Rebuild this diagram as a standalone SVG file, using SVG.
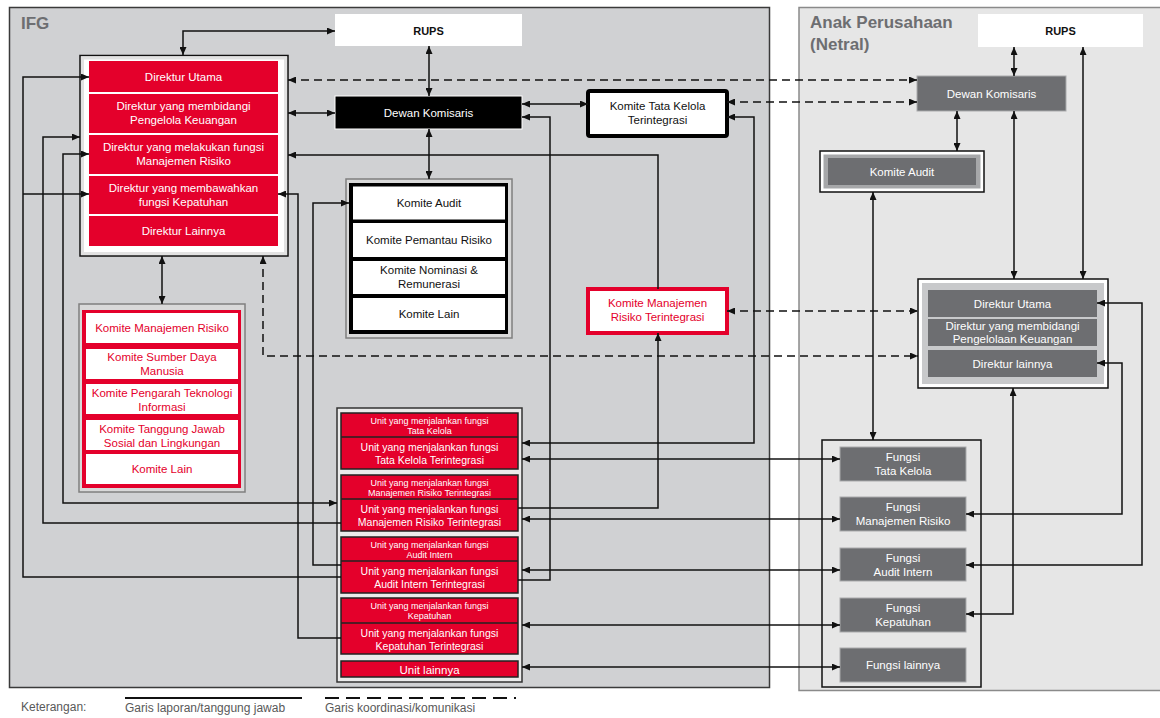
<svg xmlns="http://www.w3.org/2000/svg" width="1160" height="718" viewBox="0 0 1160 718">
<style>
text{font-family:"Liberation Sans",Arial,sans-serif;text-anchor:middle}
.t{font-size:11.5px}
.w{fill:#fff}
.k{fill:#111}
.r{fill:#e4002b}
.red{fill:#e4002b}
.dk{fill:#6d6e71;stroke:#a9aaac;stroke-width:1}
.cn path{fill:none;stroke:#111;stroke-width:1.5}
.cn .both{marker-start:url(#a);marker-end:url(#a)}
.cn .end{marker-end:url(#a)}
.cn .start{marker-start:url(#a)}
.cn .d{stroke-dasharray:8,5}
.ub{fill:#e4002b;stroke:#222;stroke-width:1.5}
.us{font-size:9px;fill:#fff}
.ul{font-size:10.5px;fill:#fff}
</style>
<defs>
<marker id="a" viewBox="0 0 8 7" refX="8" refY="3.5" markerWidth="8" markerHeight="7" markerUnits="userSpaceOnUse" orient="auto-start-reverse"><path d="M0,0 L8,3.5 L0,7 z" fill="#111"/></marker>
</defs>
<rect width="1160" height="718" fill="#fff"/>
<g id="panel-ifg">
<rect x="9.5" y="7.5" width="760" height="680" fill="#d0d1d3" stroke="#3a3a3a" stroke-width="1.5"/>
<text x="21" y="29" style="text-anchor:start;font-size:17px;font-weight:bold;fill:#6d6e71">IFG</text>
</g>
<g id="panel-anak">
<rect x="799" y="7.5" width="370" height="683" fill="#e6e6e6" stroke="#8a8a8a" stroke-width="1.5"/>
<text x="810" y="28" style="text-anchor:start;font-size:17px;font-weight:bold;fill:#6d6e71">Anak Perusahaan</text>
<text x="810" y="50" style="text-anchor:start;font-size:17px;font-weight:bold;fill:#6d6e71">(Netral)</text>
</g>

<g id="ifg-rups">
<rect x="335" y="14" width="187" height="32" fill="#fff"/>
<text x="428.5" y="35" style="font-size:11px;font-weight:bold" class="k">RUPS</text>
</g>
<g id="ifg-dewan-komisaris">
<rect x="335" y="96" width="187" height="33" fill="#000" stroke="#fff" stroke-width="1"/>
<text x="428.5" y="116.5" class="t w">Dewan Komisaris</text>
</g>
<g id="ifg-direksi">
<rect x="80" y="55.5" width="208" height="200.5" fill="#fff" stroke="#111" stroke-width="1.5"/>
<rect x="82.5" y="58" width="203" height="195.5" fill="none" stroke="#e2e2e2" stroke-width="3"/>
<rect x="89" y="61" width="189" height="31" class="red"/>
<text x="183.5" y="80.5" class="t w">Direktur Utama</text>
<rect x="89" y="94" width="189" height="39" class="red"/>
<text x="183.5" y="110" class="t w">Direktur yang membidangi</text>
<text x="183.5" y="124" class="t w">Pengelola Keuangan</text>
<rect x="89" y="135" width="189" height="39" class="red"/>
<text x="183.5" y="151" class="t w">Direktur yang melakukan fungsi</text>
<text x="183.5" y="165" class="t w">Manajemen Risiko</text>
<rect x="89" y="176" width="189" height="38" class="red"/>
<text x="183.5" y="191.5" class="t w">Direktur yang membawahkan</text>
<text x="183.5" y="205.5" class="t w">fungsi Kepatuhan</text>
<rect x="89" y="216" width="189" height="30" class="red"/>
<text x="183.5" y="235" class="t w">Direktur Lainnya</text>
</g>
<g id="ifg-komite-tata-kelola">
<rect x="588" y="91" width="139" height="45" rx="2" fill="#fff" stroke="#000" stroke-width="4"/>
<text x="657.5" y="110" class="t k">Komite Tata Kelola</text>
<text x="657.5" y="124" class="t k">Terintegrasi</text>
</g>
<g id="ifg-komite-dekom">
<rect x="346" y="179" width="166" height="159" fill="#d9d9d9" stroke="#7f7f7f" stroke-width="1.5"/>
<rect x="349" y="183" width="159" height="151" fill="#000"/>
<rect x="353" y="186.5" width="152" height="33" fill="#fff"/>
<text x="429" y="207" class="t k">Komite Audit</text>
<rect x="353" y="223" width="152" height="34" fill="#fff"/>
<text x="429" y="244" class="t k">Komite Pemantau Risiko</text>
<rect x="353" y="261" width="152" height="33" fill="#fff"/>
<text x="429" y="274" class="t k">Komite Nominasi &amp;</text>
<text x="429" y="288" class="t k">Remunerasi</text>
<rect x="353" y="298" width="152" height="32" fill="#fff"/>
<text x="429" y="318" class="t k">Komite Lain</text>
</g>
<g id="ifg-komite-manajemen-risiko-terintegrasi">
<rect x="588" y="289" width="139" height="44" fill="#fff" stroke="#e4002b" stroke-width="4"/>
<text x="657.5" y="307" class="t r">Komite Manajemen</text>
<text x="657.5" y="321" class="t r">Risiko Terintegrasi</text>
</g>
<g id="ifg-komite-direksi">
<rect x="79" y="304" width="166" height="188" fill="#d9d9d9" stroke="#7f7f7f" stroke-width="1.5"/>
<rect x="82" y="310" width="159" height="178" class="red"/>
<rect x="86" y="313" width="152" height="30" fill="#fff"/>
<text x="162" y="332" class="t r">Komite Manajemen Risiko</text>
<rect x="86" y="349" width="152" height="30" fill="#fff"/>
<text x="162" y="361" class="t r">Komite Sumber Daya</text>
<text x="162" y="375" class="t r">Manusia</text>
<rect x="86" y="384" width="152" height="30" fill="#fff"/>
<text x="162" y="397" class="t r">Komite Pengarah Teknologi</text>
<text x="162" y="411" class="t r">Informasi</text>
<rect x="86" y="420" width="152" height="30" fill="#fff"/>
<text x="162" y="433" class="t r">Komite Tanggung Jawab</text>
<text x="162" y="447" class="t r">Sosial dan Lingkungan</text>
<rect x="86" y="454" width="152" height="30" fill="#fff"/>
<text x="162" y="473" class="t r">Komite Lain</text>
</g>
<g id="ifg-unit">
<rect x="337" y="408" width="185" height="274" fill="#ebebeb" stroke="#333" stroke-width="1.5"/>
<rect x="341" y="413" width="177" height="56" class="ub"/>
<line x1="341" y1="437" x2="518" y2="437" stroke="#222" stroke-width="1.5"/>
<text x="429.5" y="424" class="us">Unit yang menjalankan fungsi</text>
<text x="429.5" y="434" class="us">Tata Kelola</text>
<text x="429.5" y="451" class="ul">Unit yang menjalankan fungsi</text>
<text x="429.5" y="464" class="ul">Tata Kelola Terintegrasi</text>
<rect x="341" y="475" width="177" height="56" class="ub"/>
<line x1="341" y1="499" x2="518" y2="499" stroke="#222" stroke-width="1.5"/>
<text x="429.5" y="486" class="us">Unit yang menjalankan fungsi</text>
<text x="429.5" y="496" class="us">Manajemen Risiko Terintegrasi</text>
<text x="429.5" y="513" class="ul">Unit yang menjalankan fungsi</text>
<text x="429.5" y="526" class="ul">Manajemen Risiko Terintegrasi</text>
<rect x="341" y="537" width="177" height="56" class="ub"/>
<line x1="341" y1="561" x2="518" y2="561" stroke="#222" stroke-width="1.5"/>
<text x="429.5" y="548" class="us">Unit yang menjalankan fungsi</text>
<text x="429.5" y="558" class="us">Audit Intern</text>
<text x="429.5" y="575" class="ul">Unit yang menjalankan fungsi</text>
<text x="429.5" y="588" class="ul">Audit Intern Terintegrasi</text>
<rect x="341" y="598" width="177" height="56" class="ub"/>
<line x1="341" y1="623" x2="518" y2="623" stroke="#222" stroke-width="1.5"/>
<text x="429.5" y="609" class="us">Unit yang menjalankan fungsi</text>
<text x="429.5" y="619" class="us">Kepatuhan</text>
<text x="429.5" y="637" class="ul">Unit yang menjalankan fungsi</text>
<text x="429.5" y="650" class="ul">Kepatuhan Terintegrasi</text>
<rect x="341" y="661" width="177" height="16" class="ub"/>
<text x="429.5" y="673.5" style="font-size:11.5px;fill:#fff">Unit lainnya</text>
</g>

<g id="anak-rups">
<rect x="978" y="14" width="165" height="33" fill="#fff"/>
<text x="1060.5" y="35" style="font-size:11px;font-weight:bold" class="k">RUPS</text>
</g>
<g id="anak-dewan-komisaris">
<rect x="917" y="76" width="149" height="35" class="dk"/>
<text x="991.5" y="97.5" class="t w">Dewan Komisaris</text>
</g>
<g id="anak-komite-audit">
<rect x="820" y="151" width="164" height="41" fill="#fff" stroke="#111" stroke-width="1.5"/>
<rect x="823.5" y="154.5" width="157" height="34" fill="#a6a7a9"/>
<rect x="828" y="158" width="148" height="27" fill="#6d6e71"/>
<text x="902" y="175.5" class="t w">Komite Audit</text>
</g>
<g id="anak-direksi">
<rect x="918" y="279" width="190" height="109" fill="#fff" stroke="#111" stroke-width="1.5"/>
<rect x="922" y="283" width="182" height="101" fill="#c8c9cb"/>
<rect x="928" y="290" width="169" height="27" fill="#6d6e71"/>
<text x="1012.5" y="307.5" class="t w">Direktur Utama</text>
<rect x="928" y="319" width="169" height="27" fill="#6d6e71"/>
<text x="1012.5" y="330" class="t w">Direktur yang membidangi</text>
<text x="1012.5" y="343" class="t w">Pengelolaan Keuangan</text>
<rect x="928" y="350" width="169" height="27" fill="#6d6e71"/>
<text x="1012.5" y="367.5" class="t w">Direktur lainnya</text>
</g>
<g id="anak-fungsi">
<rect x="822" y="440" width="159" height="247" fill="none" stroke="#111" stroke-width="1.5"/>
<rect x="840" y="447" width="126" height="34" class="dk"/>
<text x="903" y="461" class="t w">Fungsi</text>
<text x="903" y="475" class="t w">Tata Kelola</text>
<rect x="840" y="497" width="126" height="34" class="dk"/>
<text x="903" y="511" class="t w">Fungsi</text>
<text x="903" y="525" class="t w">Manajemen Risiko</text>
<rect x="840" y="548" width="126" height="33" class="dk"/>
<text x="903" y="561.5" class="t w">Fungsi</text>
<text x="903" y="575.5" class="t w">Audit Intern</text>
<rect x="840" y="598" width="126" height="34" class="dk"/>
<text x="903" y="612" class="t w">Fungsi</text>
<text x="903" y="626" class="t w">Kepatuhan</text>
<rect x="840" y="648" width="126" height="34" class="dk"/>
<text x="903" y="669" class="t w">Fungsi lainnya</text>
</g>

<g id="connectors" class="cn">
<path class="both" d="M183,55 V31 H335"/>
<path class="both" d="M429,46 V96"/>
<path class="both" d="M429,129 V179"/>
<path class="both" d="M288,113 H335"/>
<path class="both d" d="M288,80 H917"/>
<path class="both" d="M522,104 H588"/>
<path class="both d" d="M727,102 H917"/>
<path class="both" d="M522,443 H754 V117 H727"/>
<path class="both" d="M522,459 H840"/>
<path class="both" d="M522,519 H840"/>
<path class="both" d="M522,570 H840"/>
<path class="both" d="M522,625 H840"/>
<path class="both" d="M522,667 H840"/>
<path class="end" d="M518,508 H658 V333"/>
<path class="end" d="M518,580 H550 V117 H522"/>
<path class="end" d="M658,289 V155 H288"/>
<path class="both d" d="M727,311 H918"/>
<path class="both d" d="M263,256 V356 H918"/>
<path class="both" d="M162,256 V304"/>
<path class="start" d="M89,77 H23 V577 H341"/>
<path class="end" d="M23,194 H89"/>
<path class="start" d="M80,137 H43 V523 H341"/>
<path class="both" d="M89,154 H63 V503 H337"/>
<path class="end" d="M341,565 H313 V203 H349"/>
<path class="end" d="M341,638 H298 V194 H278"/>
<path class="both" d="M1014,47 V76"/>
<path class="both" d="M1083,47 V279"/>
<path class="both" d="M957,111 V151"/>
<path class="both" d="M1014,111 V279"/>
<path class="both" d="M873,192 V440"/>
<path class="both" d="M1013,388 V614 H966"/>
<path class="both" d="M1097,303 H1142 V565 H966"/>
<path class="both" d="M1097,363 H1122 V514 H966"/>
</g>

<g id="legend">
<text x="21" y="711" style="text-anchor:start;font-size:12px;fill:#595959">Keterangan:</text>
<line x1="125" y1="698" x2="302" y2="698" stroke="#111" stroke-width="2"/>
<text x="125" y="712" style="text-anchor:start;font-size:12px;fill:#595959">Garis laporan/tanggung jawab</text>
<line x1="325" y1="698" x2="516" y2="698" stroke="#111" stroke-width="2" stroke-dasharray="14,7"/>
<text x="325" y="712" style="text-anchor:start;font-size:12px;fill:#595959">Garis koordinasi/komunikasi</text>
</g>
</svg>
